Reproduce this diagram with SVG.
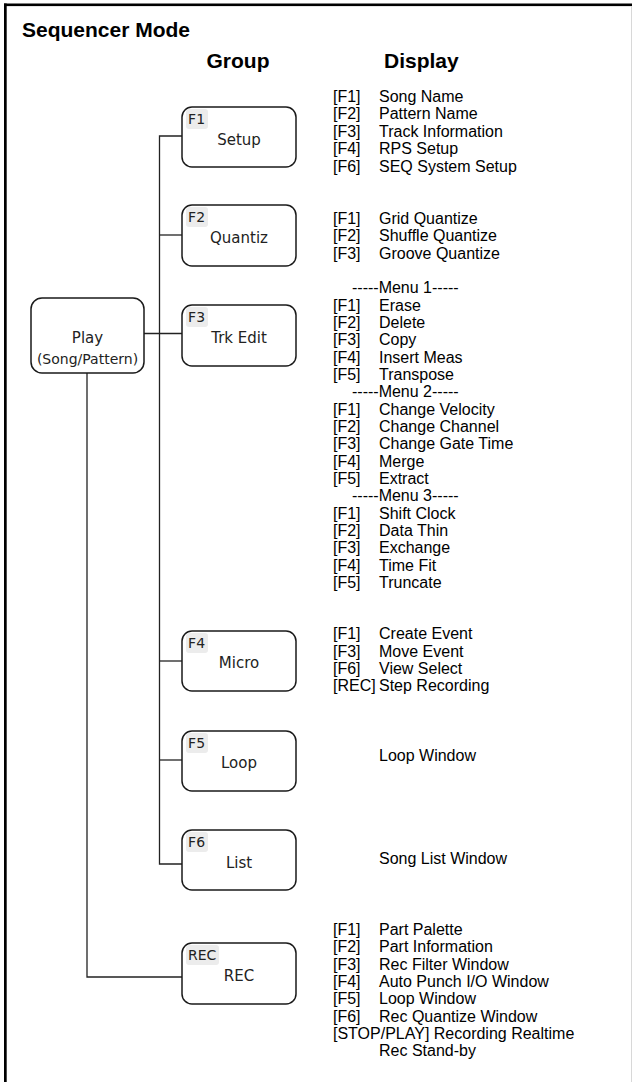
<svg xmlns="http://www.w3.org/2000/svg" width="632" height="1082" viewBox="0 0 632 1082">
<style>
.box{fill:#fff;stroke:#1a1a1a;stroke-width:1.5}
.tag{fill:#ececec}
.tagt{font-family:"DejaVu Sans",sans-serif;font-size:14px;fill:#222;letter-spacing:0.2px}
.lbl{font-family:"DejaVu Sans",sans-serif;font-size:15px;fill:#222;text-anchor:middle}
.d{font-family:"Liberation Sans",Arial,sans-serif;font-size:16px;fill:#000}
.h{font-family:"Liberation Sans",Arial,sans-serif;font-size:21px;font-weight:bold;fill:#000}
.conn{stroke:#222;stroke-width:1.3;fill:none}
</style>
<rect x="0" y="0" width="632" height="1082" fill="#fff"/>
<g id="frame">
<rect x="4" y="3.5" width="628" height="2.6" fill="#000"/>
<rect x="4" y="3.5" width="2.7" height="1078.5" fill="#000"/>
<line x1="631.5" y1="6" x2="631.5" y2="1082" stroke="#d8d8d8" stroke-width="1"/>
</g>
<g id="headers">
<text class="h" x="22" y="37">Sequencer Mode</text>
<text class="h" x="238" y="68" text-anchor="middle">Group</text>
<text class="h" x="384" y="68">Display</text>
</g>
<g id="connectors">
<path class="conn" d="M182 136 H159.5 V864 H182"/>
<path class="conn" d="M159.5 235 H182"/>
<path class="conn" d="M144 333.5 H182"/>
<path class="conn" d="M159.5 661 H182"/>
<path class="conn" d="M159.5 760 H182"/>
<path class="conn" d="M87 373 V977 H182"/>
</g>
<g id="play">
<rect class="box" x="31" y="298" width="113" height="75" rx="11"/>
<text class="lbl" x="87.5" y="343">Play</text>
<text class="lbl" x="87.5" y="364" style="font-size:14px">(Song/Pattern)</text>
</g>
<g id="setup">
<rect class="box" x="182" y="107" width="114" height="60" rx="10"/>
<rect class="tag" x="186" y="109" width="22" height="20" rx="3"/>
<text class="tagt" x="188" y="124">F1</text>
<text class="lbl" x="239" y="145">Setup</text>
</g>
<g id="quantiz">
<rect class="box" x="182" y="205" width="114" height="61" rx="10"/>
<rect class="tag" x="186" y="207" width="22" height="20" rx="3"/>
<text class="tagt" x="188" y="222">F2</text>
<text class="lbl" x="239" y="243.3">Quantiz</text>
</g>
<g id="trkedit">
<rect class="box" x="182" y="305" width="114" height="61" rx="10"/>
<rect class="tag" x="186" y="307" width="22" height="20" rx="3"/>
<text class="tagt" x="188" y="322">F3</text>
<text class="lbl" x="239" y="343.3">Trk Edit</text>
</g>
<g id="micro">
<rect class="box" x="182" y="631" width="114" height="60" rx="10"/>
<rect class="tag" x="186" y="633" width="22" height="20" rx="3"/>
<text class="tagt" x="188" y="648">F4</text>
<text class="lbl" x="239" y="668.3">Micro</text>
</g>
<g id="loop">
<rect class="box" x="182" y="731" width="114" height="60" rx="10"/>
<rect class="tag" x="186" y="733" width="22" height="20" rx="3"/>
<text class="tagt" x="188" y="748">F5</text>
<text class="lbl" x="239" y="768">Loop</text>
</g>
<g id="list">
<rect class="box" x="182" y="830" width="114" height="60" rx="10"/>
<rect class="tag" x="186" y="832" width="22" height="20" rx="3"/>
<text class="tagt" x="188" y="847">F6</text>
<text class="lbl" x="239" y="868.3">List</text>
</g>
<g id="rec">
<rect class="box" x="182" y="943" width="114" height="61" rx="10"/>
<rect class="tag" x="186" y="945" width="33" height="20" rx="3"/>
<text class="tagt" x="188" y="960" style="letter-spacing:0">REC</text>
<text class="lbl" x="239" y="981">REC</text>
</g>
<g id="display-setup" class="d">
<text x="333" y="102">[F1]</text><text x="379" y="102">Song Name</text>
<text x="333" y="119.4">[F2]</text><text x="379" y="119.4">Pattern Name</text>
<text x="333" y="136.8">[F3]</text><text x="379" y="136.8">Track Information</text>
<text x="333" y="154.2">[F4]</text><text x="379" y="154.2">RPS Setup</text>
<text x="333" y="171.6">[F6]</text><text x="379" y="171.6">SEQ System Setup</text>
</g>
<g id="display-quantiz" class="d">
<text x="333" y="224">[F1]</text><text x="379" y="224">Grid Quantize</text>
<text x="333" y="241.3">[F2]</text><text x="379" y="241.3">Shuffle Quantize</text>
<text x="333" y="258.7">[F3]</text><text x="379" y="258.7">Groove Quantize</text>
</g>
<g id="display-trkedit" class="d">
<text x="352" y="293.3">-----Menu 1-----</text>
<text x="333" y="310.7">[F1]</text><text x="379" y="310.7">Erase</text>
<text x="333" y="328">[F2]</text><text x="379" y="328">Delete</text>
<text x="333" y="345.3">[F3]</text><text x="379" y="345.3">Copy</text>
<text x="333" y="362.7">[F4]</text><text x="379" y="362.7">Insert Meas</text>
<text x="333" y="380">[F5]</text><text x="379" y="380">Transpose</text>
<text x="352" y="397.3">-----Menu 2-----</text>
<text x="333" y="414.7">[F1]</text><text x="379" y="414.7">Change Velocity</text>
<text x="333" y="432">[F2]</text><text x="379" y="432">Change Channel</text>
<text x="333" y="449.3">[F3]</text><text x="379" y="449.3">Change Gate Time</text>
<text x="333" y="466.7">[F4]</text><text x="379" y="466.7">Merge</text>
<text x="333" y="484">[F5]</text><text x="379" y="484">Extract</text>
<text x="352" y="501.3">-----Menu 3-----</text>
<text x="333" y="518.7">[F1]</text><text x="379" y="518.7">Shift Clock</text>
<text x="333" y="536">[F2]</text><text x="379" y="536">Data Thin</text>
<text x="333" y="553.3">[F3]</text><text x="379" y="553.3">Exchange</text>
<text x="333" y="570.7">[F4]</text><text x="379" y="570.7">Time Fit</text>
<text x="333" y="588">[F5]</text><text x="379" y="588">Truncate</text>
</g>
<g id="display-micro" class="d">
<text x="333" y="639.3">[F1]</text><text x="379" y="639.3">Create Event</text>
<text x="333" y="656.7">[F3]</text><text x="379" y="656.7">Move Event</text>
<text x="333" y="674">[F6]</text><text x="379" y="674">View Select</text>
<text x="333" y="691.3">[REC]</text><text x="379" y="691.3">Step Recording</text>
</g>
<g id="display-loop" class="d">
<text x="379" y="761">Loop Window</text>
</g>
<g id="display-list" class="d">
<text x="379" y="864.3">Song List Window</text>
</g>
<g id="display-rec" class="d">
<text x="333" y="935">[F1]</text><text x="379" y="935">Part Palette</text>
<text x="333" y="952.3">[F2]</text><text x="379" y="952.3">Part Information</text>
<text x="333" y="969.7">[F3]</text><text x="379" y="969.7">Rec Filter Window</text>
<text x="333" y="987">[F4]</text><text x="379" y="987">Auto Punch I/O Window</text>
<text x="333" y="1004.3">[F5]</text><text x="379" y="1004.3">Loop Window</text>
<text x="333" y="1021.7">[F6]</text><text x="379" y="1021.7">Rec Quantize Window</text>
<text x="333" y="1039">[STOP/PLAY] Recording Realtime</text>
<text x="379" y="1056.3">Rec Stand-by</text>
</g>
</svg>
